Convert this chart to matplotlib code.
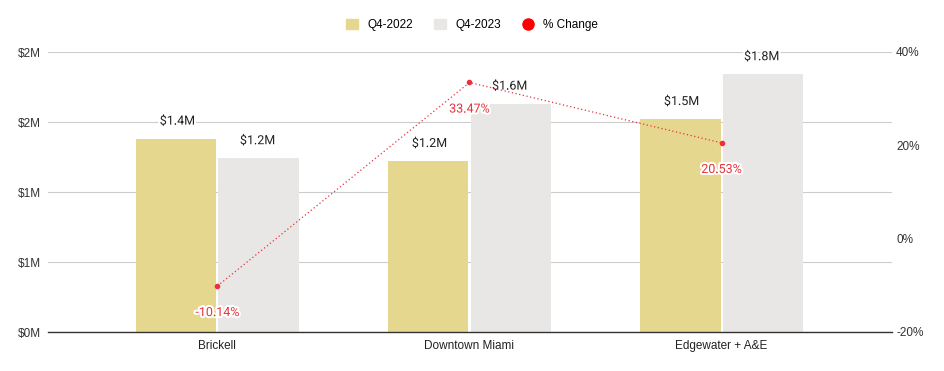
import matplotlib.pyplot as plt
import matplotlib.patheffects as pe
from matplotlib.lines import Line2D
from matplotlib.patches import Patch
import numpy as np

categories = ["Brickell", "Downtown Miami", "Edgewater + A&E"]
q4_2022 = [1.38, 1.22, 1.52]  # $M
q4_2023 = [1.24, 1.63, 1.84]
pct_change = [-10.14, 33.47, 20.53]
bar_labels_2022 = ["$1.4M", "$1.2M", "$1.5M"]
bar_labels_2023 = ["$1.2M", "$1.6M", "$1.8M"]
left_ticks = [0, 0.5, 1.0, 1.5, 2.0]
left_ticklabels = ["$0M", "$1M", "$1M", "$2M", "$2M"]
right_ticks = [-20, 0, 20, 40]

c22 = "#E6D78F"
c23 = "#E8E7E5"
red = "#E8323C"
axis_font = ['Liberation Sans', 'DejaVu Sans']

plt.rcParams['font.family'] = ['Roboto', 'DejaVu Sans']

fig = plt.figure(figsize=(9.44, 3.71), dpi=100)
ax = fig.add_axes([48 / 944, 39 / 371, 844 / 944, 280 / 371])
x = np.arange(len(categories))
w = 0.318

ax.bar(x - w / 2 - 0.004, q4_2022, w, color=c22, zorder=2)
ax.bar(x + w / 2 + 0.004, q4_2023, w, color=c23, zorder=2)

for i in range(len(categories)):
    ax.text(x[i] - w / 2, q4_2022[i] + 0.08, bar_labels_2022[i], ha='center', va='bottom', fontsize=9, color='#222222', zorder=5,
            path_effects=[pe.withStroke(linewidth=3, foreground='white')])
    ax.text(x[i] + w / 2, q4_2023[i] + 0.08, bar_labels_2023[i], ha='center', va='bottom', fontsize=9, color='#222222', zorder=5,
            path_effects=[pe.withStroke(linewidth=3, foreground='white')])

ax.set_ylim(0, 2.0)
ax.set_xlim(-0.672, 2.676)
ax.set_yticks(left_ticks)
ax.set_yticklabels(left_ticklabels, fontsize=8.5, color='#333333', family=axis_font)
ax.set_xticks(x)
ax.set_xticklabels(categories, fontsize=8.5, color='#222222', family=axis_font)
ax.tick_params(length=0, pad=5)
ax.tick_params(axis='x', pad=6)
ax.grid(axis='y', color='#CCCCCC', linewidth=0.8, zorder=0)
for s in ['top', 'right', 'left']:
    ax.spines[s].set_visible(False)
ax.spines['bottom'].set_color('#333333')
ax.spines['bottom'].set_linewidth(1.0)
ax.spines['bottom'].set_zorder(3)

ax2 = ax.twinx()
ax2.set_ylim(-20, 40)
ax2.set_yticks(right_ticks)
ax2.set_yticklabels([f"{t}%" for t in right_ticks], fontsize=8.5, color='#333333', family=axis_font)
ax2.tick_params(length=0, pad=3)
for s in ['top', 'right', 'left', 'bottom']:
    ax2.spines[s].set_visible(False)
ax2.plot(x, pct_change, linestyle=(0, (1, 2)), color=red, linewidth=0.9, marker='o', markersize=3, zorder=4)
for i in range(len(categories)):
    ax2.text(x[i], pct_change[i] - 4.3, f"{pct_change[i]:.2f}%", ha='center', va='top', fontsize=9, color=red,
             path_effects=[pe.withStroke(linewidth=3, foreground='white')], zorder=6)

handles = [
    Patch(color=c22, label='Q4-2022'),
    Patch(color=c23, label='Q4-2023'),
    Line2D([0], [0], marker='o', color='none', markerfacecolor='red', markeredgecolor='red', markersize=8, label='% Change'),
]
fig.legend(handles=handles, loc='center', bbox_to_anchor=(0.5, 1 - 25 / 371), ncol=3, frameon=False,
           prop={'family': axis_font, 'size': 8.5}, handlelength=1.0, handleheight=1.0, columnspacing=1.8, handletextpad=0.8)

fig.savefig('out.png', dpi=100)
